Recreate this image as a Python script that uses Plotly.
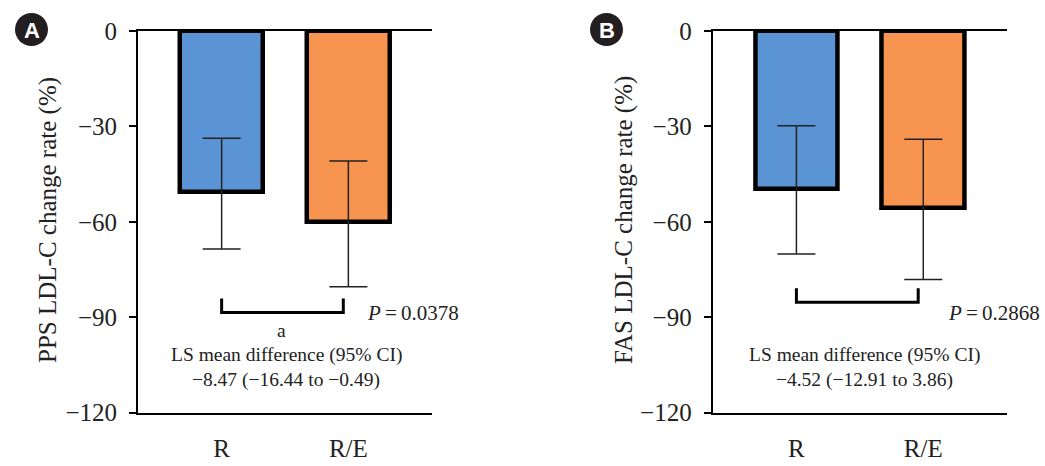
import plotly.graph_objects as go

# ---------------- data ----------------
categories = ["R", "R/E"]
bar_colors = ["#5A94D4", "#F69450"]

pps_mean = [-50.7, -60.0]
pps_ci_upper = [-33.7, -40.9]
pps_ci_lower = [-68.5, -80.4]

fas_mean = [-49.7, -55.6]
fas_ci_upper = [-29.8, -34.0]
fas_ci_lower = [-70.1, -78.1]

y_ticks = [0, -30, -60, -90, -120]

panel_labels = ["A", "B"]
y_titles = ["PPS LDL-C change rate (%)", "FAS LDL-C change rate (%)"]
p_values = ["0.0378", "0.2868"]
ls_lines = [["LS mean difference (95% CI)", "\u22128.47 (\u221216.44 to \u22120.49)"],
            ["LS mean difference (95% CI)", "\u22124.52 (\u221212.91 to 3.86)"]]
bracket_levels = [(-84.1, -88.5), (-80.9, -85.3)]

W, H = 1045, 466
FONT = "Liberation Serif"

fig = go.Figure()

def add_panel(means, upper, lower, xa, ya):
    plus = [u - m for u, m in zip(upper, means)]
    minus = [m - l for m, l in zip(means, lower)]
    fig.add_trace(go.Bar(
        x=categories, y=means, width=0.65,
        marker=dict(color=bar_colors, line=dict(color="black", width=4.5)),
        error_y=dict(type="data", symmetric=False, array=plus, arrayminus=minus,
                     color="#222222", thickness=1.5, width=19),
        xaxis=xa, yaxis=ya, showlegend=False,
    ))

add_panel(pps_mean, pps_ci_upper, pps_ci_lower, "x", "y")
add_panel(fas_mean, fas_ci_upper, fas_ci_lower, "x2", "y2")

y_dom = [1 - 412.7 / H, 1 - 31 / H]
xdoms = [[138 / W, 432 / W], [712.7 / W, 1007 / W]]

xcommon = dict(range=[-0.66, 1.66], showline=True, linecolor="black", linewidth=2,
               mirror=True, ticks="", showgrid=False, zeroline=False, automargin=False,
               tickfont=dict(family=FONT, size=25, color="#222"),
               ticklabelstandoff=12, fixedrange=True)
ycommon = dict(range=[-120, 0], tickvals=y_ticks, showline=True, linecolor="black",
               linewidth=2, ticks="outside", ticklen=7, tickwidth=2, tickcolor="black",
               showgrid=False, zeroline=False, automargin=False,
               tickfont=dict(family=FONT, size=25, color="#222"),
               ticklabelstandoff=7, fixedrange=True)

fig.update_layout(
    template="none",
    width=W, height=H, margin=dict(l=0, r=0, t=0, b=0, pad=0, autoexpand=False),
    paper_bgcolor="white", plot_bgcolor="white",
    bargap=0,
    xaxis=dict(domain=xdoms[0], anchor="y", **xcommon),
    yaxis=dict(domain=y_dom, anchor="x", **ycommon),
    xaxis2=dict(domain=xdoms[1], anchor="y2", **xcommon),
    yaxis2=dict(domain=y_dom, anchor="x2", **ycommon),
)

shapes = []
annotations = []
p_x = [1.51, 1.557]
ls_x = [0.51, 0.536]
title_x = [48, 624]
circle_cx = [31.5, 606.5]
for i, (xa, ya) in enumerate([("x", "y"), ("x2", "y2")]):
    top, bot = bracket_levels[i]
    shapes.append(dict(type="path", xref=xa, yref=ya,
                       path=f"M 0,{top} L 0,{bot} L 0.96,{bot} L 0.96,{top}",
                       line=dict(color="black", width=3)))
    annotations.append(dict(xref=xa, yref=ya, x=p_x[i], y=-88.7, showarrow=False,
                            text="<i>P</i>\u2009=\u20090." + p_values[i][2:],
                            font=dict(family=FONT, size=21, color="#222")))
    annotations.append(dict(xref=xa, yref=ya, x=ls_x[i], y=-101.9, showarrow=False,
                            text=ls_lines[i][0], font=dict(family=FONT, size=19.5, color="#222")))
    annotations.append(dict(xref=xa, yref=ya, x=ls_x[i], y=-109.7, showarrow=False,
                            text=ls_lines[i][1], font=dict(family=FONT, size=19.5, color="#222")))
    annotations.append(dict(xref="paper", yref="paper", x=title_x[i] / W, y=1 - 220 / H,
                            xanchor="center", yanchor="middle",
                            showarrow=False, textangle=-90, text=y_titles[i],
                            font=dict(family=FONT, size=25, color="#222")))
    cx, cy, r = circle_cx[i], 29.5, 16.5
    shapes.append(dict(type="circle", xref="paper", yref="paper",
                       x0=(cx - r) / W, x1=(cx + r) / W, y0=1 - (cy + r) / H, y1=1 - (cy - r) / H,
                       fillcolor="#231F20", line=dict(width=0)))
    annotations.append(dict(xref="paper", yref="paper", x=cx / W, y=1 - (cy + 1) / H,
                            xanchor="center", yanchor="middle",
                            showarrow=False, text="<b>" + panel_labels[i] + "</b>",
                            font=dict(family="Liberation Sans", size=22, color="white")))

annotations.append(dict(xref="x", yref="y", x=0.47, y=-94.0, showarrow=False, text="a",
                        font=dict(family=FONT, size=19.5, color="#222")))

fig.update_layout(shapes=shapes, annotations=annotations)
fig.write_html("out.html", config={"displayModeBar": False},
               post_script="document.body.style.margin='0px';")
